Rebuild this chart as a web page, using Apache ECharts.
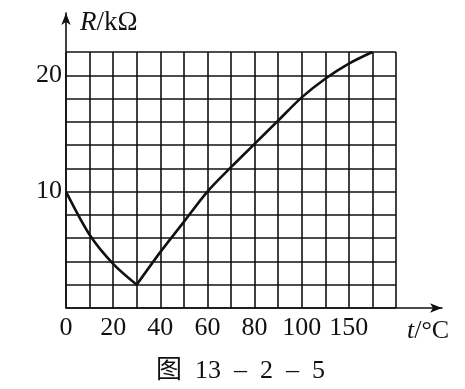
<!DOCTYPE html>
<html>
<head>
<meta charset="utf-8">
<script src="https://cdn.jsdelivr.net/npm/echarts@6/dist/echarts.min.js"></script>
<style>
html,body{margin:0;padding:0;background:#fff;}
#chart{width:465px;height:389px;}
</style>
</head>
<body>
<div id="chart"></div>
<script>
// Data (t in grid units of 10 °C per column, R in kΩ)
const tValues = [0, 10, 20, 30, 40, 50, 60, 70, 80, 90, 100, 110, 120, 130];
const rValues = [10, 6.3, 3.8, 2, 4.8, 7.4, 10, 12.1, 14.1, 16.1, 18.1, 19.7, 21.0, 22];
const minIndex = 3; // kink of the curve
const xTickValues = [0, 20, 40, 60, 80, 100, 120];
const xTickLabels = ['0', '20', '40', '60', '80', '100', '150'];
const yTickValues = [10, 20];
const yTickLabels = ['10', '20'];
const caption = '图 13 – 2 – 5';

const pts = tValues.map((t, i) => [t, rValues[i]]);
const falling = pts.slice(0, minIndex + 1);
const rising = pts.slice(minIndex);

const serif = '"Liberation Serif", "DejaVu Serif", serif';
const ink = '#111';

const chart = echarts.init(document.getElementById('chart'), null, {renderer: 'canvas'});
chart.setOption({
  backgroundColor: '#fff',
  animation: false,
  title: [
    {
      text: '{i|R}{n|/kΩ}',
      left: 80, top: 9, padding: 0,
      textStyle: {fontWeight: 'normal', rich: {
        i: {fontFamily: serif, fontSize: 27, fontStyle: 'italic', fontWeight: 'normal', color: ink},
        n: {fontFamily: serif, fontSize: 27, fontWeight: 'normal', color: ink}
      }}
    },
    {
      text: '{i|t}{n|/°C}',
      left: 407, top: 318, padding: 0,
      textStyle: {fontWeight: 'normal', rich: {
        i: {fontFamily: serif, fontSize: 26, fontStyle: 'italic', fontWeight: 'normal', color: ink},
        n: {fontFamily: serif, fontSize: 26, fontWeight: 'normal', color: ink}
      }}
    },
    {
      text: caption.split(' ').join('\u2002'),
      left: 156, top: 358, padding: 0,
      textStyle: {fontFamily: '"Liberation Serif", "Noto Sans CJK SC", serif', fontSize: 26, fontWeight: 'normal', color: ink}
    }
  ],
  grid: [
    {left: 66, right: 69, top: 52, bottom: 81, containLabel: false},
    {left: 66, right: 23, top: 13, bottom: 81, containLabel: false}
  ],
  xAxis: [
    {
      gridIndex: 0, type: 'value', min: 0, max: 140, interval: 10,
      axisLine: {show: false}, axisTick: {show: false},
      splitLine: {show: true, showMinLine: true, showMaxLine: true, lineStyle: {color: ink, width: 1.6}},
      axisLabel: {
        show: true, margin: 7, fontFamily: serif, fontSize: 26, color: ink,
        showMinLabel: true, showMaxLabel: true,
        formatter: v => { const k = xTickValues.indexOf(v); return k >= 0 ? xTickLabels[k] : ''; }
      }
    },
    {
      gridIndex: 1, type: 'value', min: 0, max: 1,
      axisLine: {show: true, symbol: ['none', 'arrow'], symbolSize: [7, 12], lineStyle: {color: ink, width: 1.6}},
      axisTick: {show: false}, axisLabel: {show: false}, splitLine: {show: false}
    }
  ],
  yAxis: [
    {
      gridIndex: 0, type: 'value', min: 0, max: 22, interval: 2,
      axisLine: {show: false}, axisTick: {show: false},
      splitLine: {show: true, showMinLine: true, showMaxLine: true, lineStyle: {color: ink, width: 1.6}},
      axisLabel: {
        show: true, margin: 4, fontFamily: serif, fontSize: 26, color: ink,
        formatter: v => { const k = yTickValues.indexOf(v); return k >= 0 ? yTickLabels[k] : ''; }
      }
    },
    {
      gridIndex: 1, type: 'value', min: 0, max: 1,
      axisLine: {show: true, symbol: ['none', 'arrow'], symbolSize: [7, 12], lineStyle: {color: ink, width: 1.6}},
      axisTick: {show: false}, axisLabel: {show: false}, splitLine: {show: false}
    }
  ],
  series: [
    {
      type: 'line', xAxisIndex: 0, yAxisIndex: 0, data: falling,
      smooth: 0.3, showSymbol: false, symbol: 'none',
      lineStyle: {color: ink, width: 2.6}, z: 5
    },
    {
      type: 'line', xAxisIndex: 0, yAxisIndex: 0, data: rising,
      smooth: 0.3, showSymbol: false, symbol: 'none',
      lineStyle: {color: ink, width: 2.6}, z: 5
    }
  ]
});
</script>
</body>
</html>
